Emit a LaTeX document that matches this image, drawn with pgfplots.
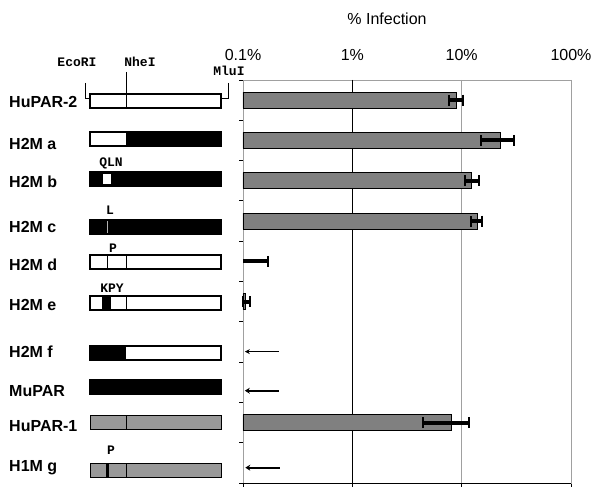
\documentclass[border=0pt]{standalone}
\usepackage{fontspec}
\setmainfont{Liberation Sans}
\newfontfamily\mono{Liberation Mono}[BoldFont={Liberation Mono Bold}]
\usepackage{pgfplots}
\pgfplotsset{compat=1.18}
\usetikzlibrary{arrows.meta}

\definecolor{bargray}{HTML}{808080}
\definecolor{boxgray}{HTML}{999999}
\definecolor{linegray}{HTML}{A0A0A0}

\tikzset{
  box/.style={draw=black, line width=1.3pt},
  site/.style={font=\mono\bfseries\fontsize{13}{13}\selectfont, inner sep=0pt},
  rowlab/.style={font=\bfseries\fontsize{16}{16}\selectfont, anchor=west, inner sep=0pt},
}
\pgfplotsset{
  errstyle/.style={error bars/.cd, x dir=#1, x explicit, error mark=|,
    error bar style={black, line width=4pt},
    error mark options={black, line width=2pt, mark size=5.5pt}},
}

\begin{document}
\begin{tikzpicture}
% construct drawings, in pixel units of the picture
\begin{axis}[
    at={(0pt,0pt)}, anchor=south west,
    scale only axis, width=606pt, height=487pt,
    xmin=0, xmax=606, ymin=0, ymax=487, y dir=reverse,
    hide axis, clip=false,
  ]
  % HuPAR-2
  \fill[white] (90,94) rectangle (221,108);
  \draw[line width=0.8pt] (126,72) -- (126,108);
  \draw[line width=0.8pt] (85,83) -- (85,98) -- (90,98);
  \draw[line width=0.8pt] (228,83) -- (228,98) -- (221,98);
  \draw[box] (90,94) rectangle (221,108);
  \node[site] at (77,62) {EcoRI};
  \node[site] at (140,62) {NheI};
  \node[site] at (229,71) {MluI};
  % H2M a
  \fill[white] (90,132) rectangle (126,146);
  \fill[black] (126,132) rectangle (221,146);
  \draw[box] (90,132) rectangle (221,146);
  % H2M b
  \fill[black] (90,172) rectangle (221,186);
  \fill[white] (103,174) rectangle (111,184);
  \draw[box] (90,172) rectangle (221,186);
  \node[site] at (111,163) {QLN};
  % H2M c
  \fill[black] (90,220) rectangle (221,234);
  \draw[white!70!black, line width=0.6pt] (107,221) -- (107,233);
  \draw[box] (90,220) rectangle (221,234);
  \node[site] at (110,210) {L};
  % H2M d
  \fill[white] (90,255) rectangle (221,269);
  \draw[line width=0.8pt] (107,255) -- (107,269);
  \draw[line width=0.8pt] (126,255) -- (126,269);
  \draw[box] (90,255) rectangle (221,269);
  \node[site] at (113,248) {P};
  % H2M e
  \fill[white] (90,296) rectangle (221,310);
  \fill[black] (102,296) rectangle (111,310);
  \draw[line width=0.8pt] (126,296) -- (126,310);
  \draw[box] (90,296) rectangle (221,310);
  \node[site] at (112,288) {KPY};
  % H2M f
  \fill[black] (90,346) rectangle (126,360);
  \fill[white] (126,346) rectangle (221,360);
  \draw[box] (90,346) rectangle (221,360);
  % MuPAR
  \fill[black] (90,380) rectangle (221,394);
  \draw[box] (90,380) rectangle (221,394);
  % HuPAR-1
  \fill[boxgray] (90,415) rectangle (221,429);
  \draw[line width=0.8pt] (126,415) -- (126,429);
  \draw[line width=0.8pt] (90,415) rectangle (221,429);
  % H1M g
  \fill[boxgray] (90,463) rectangle (221,477);
  \fill[black] (106,463) rectangle (109,477);
  \draw[line width=0.8pt] (126,463) -- (126,477);
  \draw[line width=0.8pt] (90,463) rectangle (221,477);
  \node[site] at (111,450) {P};

  % row names
  \node[rowlab] at (9,102) {HuPAR-2};
  \node[rowlab] at (9,144) {H2M a};
  \node[rowlab] at (9,182) {H2M b};
  \node[rowlab] at (9,227) {H2M c};
  \node[rowlab] at (9,265) {H2M d};
  \node[rowlab] at (9,305) {H2M e};
  \node[rowlab] at (9,352) {H2M f};
  \node[rowlab] at (9,391) {MuPAR};
  \node[rowlab] at (9,426) {HuPAR-1};
  \node[rowlab] at (9,468) {H1M g};

  \node[font=\fontsize{16}{16}\selectfont] at (387,19) {\% Infection};
\end{axis}

% infection data
\begin{axis}[
    at={(243pt,4pt)}, anchor=south west,
    scale only axis, width=328pt, height=403pt,
    xmode=log, log origin x=infty,
    xmin=0.1, xmax=100, ymin=-0.5, ymax=9.5, y dir=reverse,
    axis line style={linegray, line width=0.9pt},
    xtick={0.1,1,10,100},
    xticklabels={0.1\%,1\%,10\%,100\%},
    xtick pos=left, xticklabel pos=right,
    xminorticks=false,
    ytick={-0.5,0.5,...,9.5}, yticklabels={}, ytick pos=left,
    tick align=outside, major tick length=4pt,
    tick style={black, line width=0.9pt},
    xmajorgrids, grid style={linegray, line width=0.9pt},
    extra x ticks={1}, extra x tick labels={},
    extra x tick style={grid style={black, line width=0.9pt}},
    xticklabel style={font=\fontsize{16}{16}\selectfont, yshift=12pt},
    clip=false,
  ]
  \addplot[xbar, bar width=16pt, fill=bargray, draw=black, line width=0.8pt,
    errstyle=both]
    coordinates {
      (9.0,0)   += (1.2,0)   -= (1.4,0)
      (22.4,1)  += (7.6,0)   -= (7.4,0)
      (12.4,2)  += (1.9,0)   -= (1.7,0)
      (13.9,3)  += (1.4,0)   -= (1.7,0)
      (0.106,5) += (0.011,0) -= (0.006,0)
      (8.0,8)   += (3.6,0)   -= (3.6,0)
    };
  % H2M d: no bar, only the upper error
  \addplot[draw=none, mark=none, errstyle=plus]
    coordinates { (0.1,4) += (0.068,0) };
  % below detection
  \addplot[black, line width=0.8pt, -{Stealth[length=5pt, width=5pt]}]
    coordinates {(0.213,6.24) (0.104,6.24)};
  \addplot[black, line width=2pt, -{Stealth[length=5pt, width=6pt]}]
    coordinates {(0.213,7.21) (0.104,7.21)};
  \addplot[black, line width=2pt, -{Stealth[length=5pt, width=6pt]}]
    coordinates {(0.216,9.12) (0.105,9.12)};
  \draw[black, line width=1pt] (axis description cs:0,0) -- (axis description cs:1,0);
\end{axis}
\pgfresetboundingbox
\useasboundingbox (0,0) rectangle (606pt,487pt);
\end{tikzpicture}
\end{document}
